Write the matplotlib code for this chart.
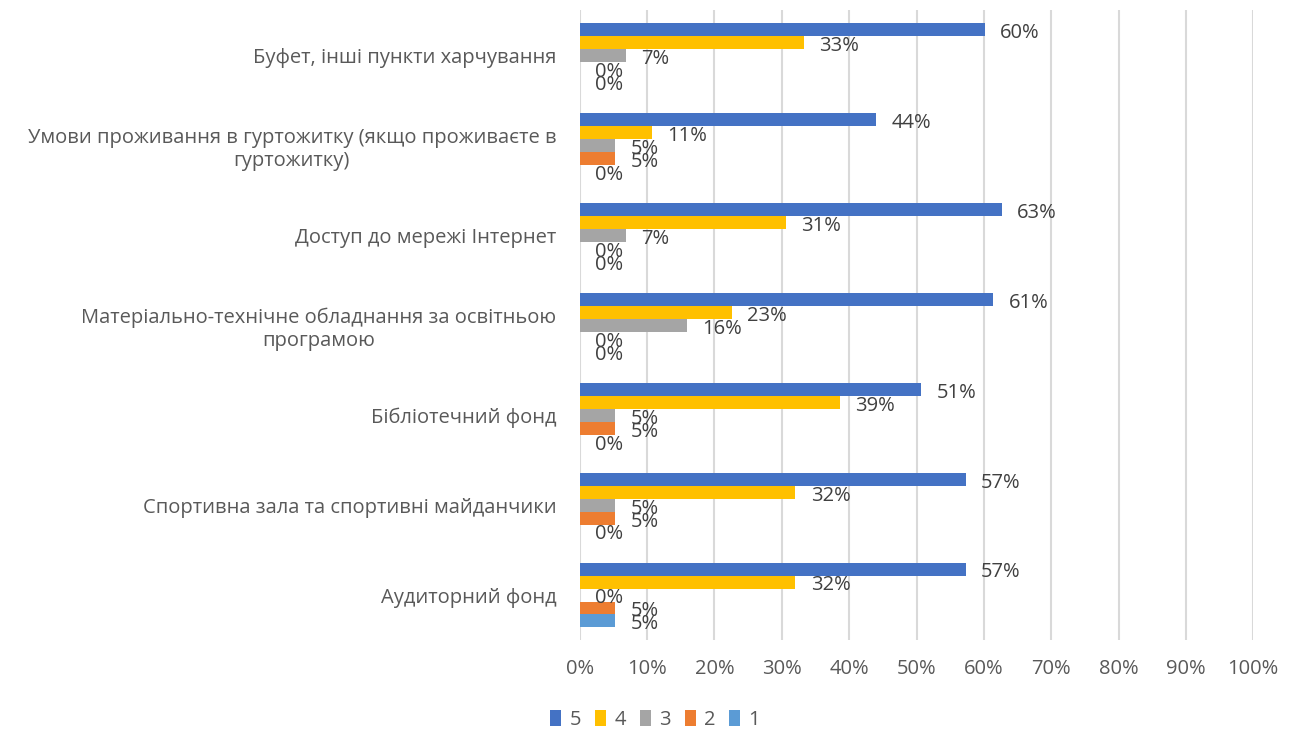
import matplotlib.pyplot as plt
import numpy as np

plt.rcParams["font.family"] = ["Open Sans", "DejaVu Sans"]

categories = [
    "Буфет, інші пункти харчування",
    "Умови проживання в гуртожитку (якщо проживаєте в\nгуртожитку)",
    "Доступ до мережі Інтернет",
    "Матеріально-технічне обладнання за освітньою\nпрограмою",
    "Бібліотечний фонд",
    "Спортивна зала та спортивні майданчики",
    "Аудиторний фонд",
]
series_names = ["5", "4", "3", "2", "1"]
score_5 = [0.601, 0.440, 0.627, 0.614, 0.507, 0.573, 0.573]
score_4 = [0.333, 0.107, 0.306, 0.226, 0.386, 0.320, 0.320]
score_3 = [0.068, 0.053, 0.068, 0.159, 0.053, 0.053, 0.0]
score_2 = [0.0, 0.053, 0.0, 0.0, 0.053, 0.053, 0.053]
score_1 = [0.0, 0.0, 0.0, 0.0, 0.0, 0.0, 0.053]
colors = ["#4472C4", "#FFC000", "#A5A5A5", "#ED7D31", "#5B9BD5"]
x_ticks = [0.0, 0.1, 0.2, 0.3, 0.4, 0.5, 0.6, 0.7, 0.8, 0.9, 1.0]

fig = plt.figure(figsize=(13, 7.31), dpi=100)
ax = fig.add_axes([0.446, 0.1245, 0.518, 0.8615])

y = np.arange(len(categories))
h = 0.1444
all_series = [score_5, score_4, score_3, score_2, score_1]
for i, (name, vals, col) in enumerate(zip(series_names, all_series, colors)):
    pos = y + (i - 2) * h
    ax.barh(pos, vals, height=h, color=col, label=name, zorder=3)
    for yy, v in zip(pos, vals):
        ax.annotate(f"{v:.0%}", (v, yy), xytext=(11, -2.5), textcoords="offset points",
                    ha="left", va="center", fontsize=14.5, color="#404040", zorder=4)

ax.set_ylim(len(categories) - 0.5, -0.5)
ax.set_xlim(0, 1)
ax.set_xticks(x_ticks)
ax.set_xticklabels([f"{t:.0%}" for t in x_ticks])
ax.set_yticks(y)
ax.set_yticklabels(categories, multialignment="center")
ax.tick_params(axis="both", length=0, labelsize=14.5, colors="#595959")
ax.tick_params(axis="x", pad=14)
ax.tick_params(axis="y", pad=17)
ax.grid(axis="x", color="#D9D9D9", linewidth=1.5, zorder=0)
for s in ax.spines.values():
    s.set_visible(False)

ax.legend(loc="center", bbox_to_anchor=(0.504, 0.015), bbox_transform=fig.transFigure,
          ncol=5, frameon=False, fontsize=14.5, handlelength=0.55, handleheight=0.8,
          handletextpad=0.4, columnspacing=0.7, labelcolor="#595959")

fig.savefig("out.png", dpi=100)
